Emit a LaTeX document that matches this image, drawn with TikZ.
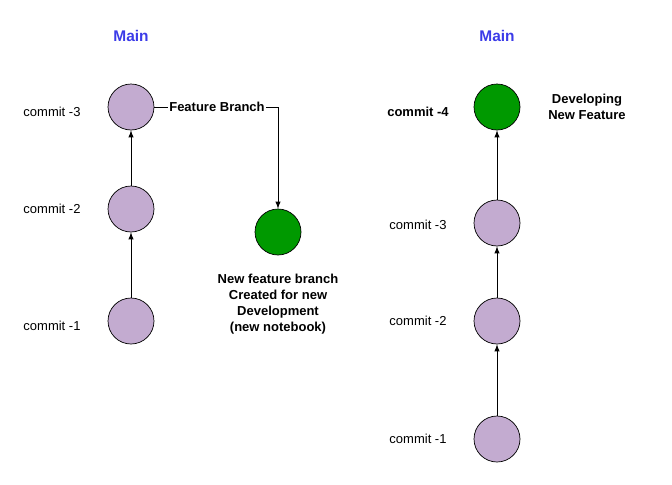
\documentclass[tikz,border=0pt]{standalone}
\usepackage{fontspec}
\setmainfont{Liberation Sans}
\usetikzlibrary{positioning}
\definecolor{commitpurple}{HTML}{C3ABD0}
\definecolor{featgreen}{HTML}{009900}
\definecolor{mainblue}{HTML}{3B3BE8}
\begin{document}
\begin{tikzpicture}[x=0.02cm,y=-0.02cm,font=\fontsize{7.4}{9}\selectfont,
    commit/.style={circle,draw=black,fill=commitpurple,minimum size=0.92cm,inner sep=0pt},
    feature/.style={commit,fill=featgreen},
    lbl/.style={align=center},
    head/.style={font=\fontsize{8.8}{10}\selectfont\bfseries,text=mainblue},
    link/.style={-latex,thin}]
        \useasboundingbox (0,0) rectangle (672,484);
        % left history
        \node[head] (mainL) at (131,36) {Main};
        \node[commit] (l1) at (131,321) {};
        \node[commit] (l2) at (131,209) {};
        \node[commit] (l3) at (131,107) {};
        \node[feature] (branch) at (278,232) {};
        \node[lbl] (tl1) at (52,326) {commit -1};
        \node[lbl] (tl2) at (52,209) {commit -2};
        \node[lbl] (tl3) at (52,112) {commit -3};
        \draw[link] (l1) -- (l2);
        \draw[link] (l2) -- (l3);
        \coordinate (corner) at (278,107);
        \draw[link] (l3) -- (corner) -- (branch);
        \node[lbl,fill=white,inner sep=1pt,font=\fontsize{7.4}{9}\selectfont\bfseries] (fb) at (217,107) {Feature Branch};
        \node[lbl,font=\fontsize{7.4}{9}\selectfont\bfseries] (note) at (278,304)
            {New feature branch\\Created for new\\Development\\(new notebook)};
        % right history
        \node[head] (mainR) at (497,36) {Main};
        \node[commit] (r1) at (497,439) {};
        \node[commit] (r2) at (497,321) {};
        \node[commit] (r3) at (497,223) {};
        \node[feature] (r4) at (497,107) {};
        \node[lbl] (tr1) at (418,439) {commit -1};
        \node[lbl] (tr2) at (418,321) {commit -2};
        \node[lbl] (tr3) at (418,225) {commit -3};
        \node[lbl,font=\fontsize{7.4}{9}\selectfont\bfseries] (tr4) at (418,112) {commit -4};
        \node[lbl,font=\fontsize{7.4}{9}\selectfont\bfseries] (dev) at (587,107) {Developing\\New Feature};
        \draw[link] (r1) -- (r2);
        \draw[link] (r2) -- (r3);
        \draw[link] (r3) -- (r4);
\end{tikzpicture}
\end{document}
